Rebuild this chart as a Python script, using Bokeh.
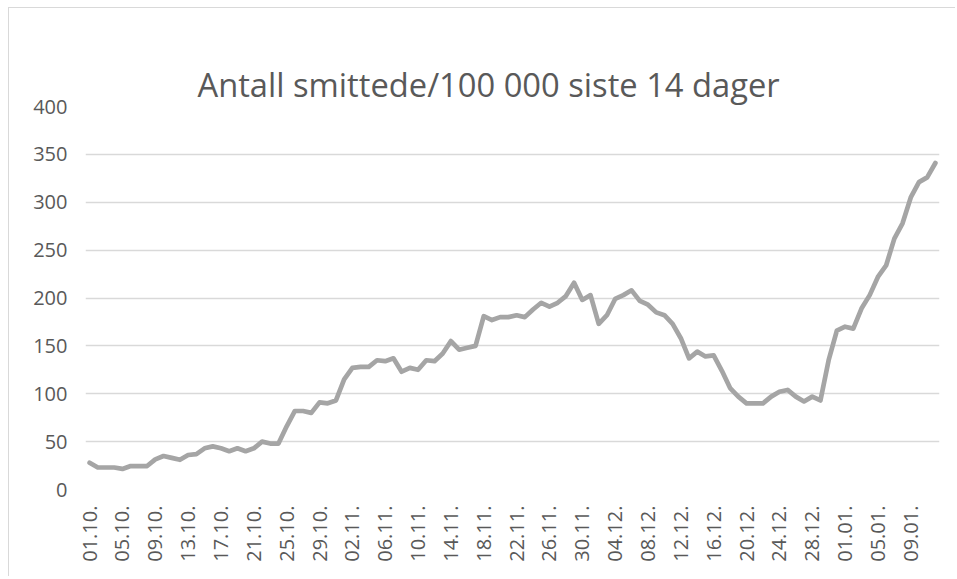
import math
from bokeh.plotting import figure
from bokeh.models import Range1d, FixedTicker, Title, LinearAxis
from bokeh.embed import file_html
from bokeh.resources import INLINE

title_text = "Antall smittede/100 000 siste 14 dager"

tick_labels = ["01.10.", "05.10.", "09.10.", "13.10.", "17.10.", "21.10.", "25.10.", "29.10.",
               "02.11.", "06.11.", "10.11.", "14.11.", "18.11.", "22.11.", "26.11.", "30.11.",
               "04.12.", "08.12.", "12.12.", "16.12.", "20.12.", "24.12.", "28.12.",
               "01.01.", "05.01.", "09.01."]
tick_step = 4

values = [28, 23, 23, 23, 21.5, 24.5, 24.5, 24.5, 31.5, 35,
          33, 31, 36, 37, 43, 45, 43, 40, 43, 40,
          43, 50, 48, 48, 66, 82, 82, 80, 91, 90,
          93, 115, 127, 128, 128, 135, 134, 137, 123, 127,
          125, 135, 134, 142, 155, 146, 148, 150, 181, 177,
          180, 180, 182, 180, 188, 195, 191, 195, 202, 216,
          198, 203, 173, 182, 199, 203, 208, 197, 193, 185,
          182, 173, 158, 137, 144, 139, 140, 124, 106, 97,
          90, 90, 90, 97, 102, 104, 97, 92, 97, 93,
          135, 166, 170, 168, 189, 203, 222, 234, 262, 278,
          305, 321, 326, 341]

y_ticks = [0, 50, 100, 150, 200, 250, 300, 350, 400]

x = list(range(len(values)))
FONT = "Open Sans"
TXT = "#595959"

p = figure(width=947, height=569, output_backend="svg", toolbar_location=None,
           x_range=Range1d(-0.5, len(values) - 0.5), y_range=Range1d(0, 400),
           min_border_left=76, min_border_right=17, min_border_top=98, min_border_bottom=88)
p.styles = {"border-left": "1px solid #d9d9d9", "border-top": "1px solid #d9d9d9",
            "margin-left": "8px", "margin-top": "7px"}

xax = p.xaxis[0]
yax = p.yaxis[0]

p.line(x, values, line_color="#a5a5a5", line_width=4.7, line_join="round", line_cap="round")

# invisible, tick-less axis used as a spacer between the plot frame and the title
spacer = LinearAxis(ticker=FixedTicker(ticks=[]), major_tick_out=37, major_tick_in=0,
                    minor_tick_out=0, minor_tick_in=0, major_label_standoff=0,
                    axis_line_color=None, major_tick_line_color=None,
                    minor_tick_line_color=None)
p.add_layout(spacer, "above")
t = Title(text=title_text, align="left", vertical_align="bottom", text_font=FONT,
          text_font_size="32.7px", text_color=TXT, text_font_style="normal",
          offset=112, standoff=0)
p.add_layout(t, "above")

p.outline_line_color = None
p.xgrid.grid_line_color = None
p.ygrid.grid_line_color = "#d9d9d9"
p.ygrid.grid_line_width = 1.3

yax.ticker = FixedTicker(ticks=y_ticks)
xax.ticker = FixedTicker(ticks=[i * tick_step for i in range(len(tick_labels))])
xax.major_label_overrides = {i * tick_step: lab for i, lab in enumerate(tick_labels)}
xax.major_label_orientation = math.pi / 2

for ax in (xax, yax):
    ax.axis_line_color = None
    ax.major_tick_line_color = None
    ax.minor_tick_line_color = None
    ax.major_tick_out = 0
    ax.major_tick_in = 0
    ax.minor_tick_out = 0
    ax.minor_tick_in = 0
    ax.major_label_text_font = FONT
    ax.major_label_text_font_size = "20px"
    ax.major_label_text_color = TXT
yax.major_label_standoff = 18
xax.major_label_standoff = 16

open("out.html", "w").write(file_html(p, INLINE))
